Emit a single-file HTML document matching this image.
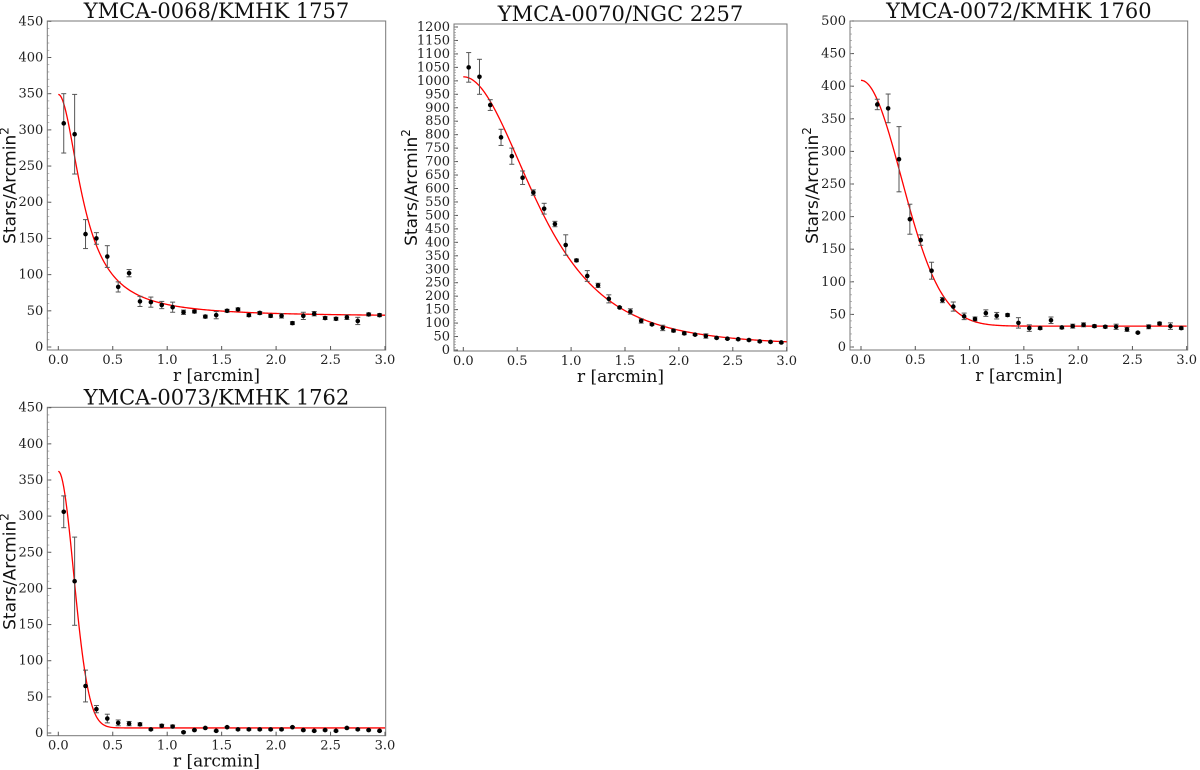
<!DOCTYPE html>
<html><head><meta charset="utf-8"><style>
html,body{margin:0;padding:0;background:#fff;}
svg{display:block;}
.tick{font-family:"DejaVu Serif","Liberation Serif",serif;font-size:13px;fill:#222;}
.title{font-family:"DejaVu Serif","Liberation Serif",serif;font-size:21px;fill:#111;}
.xl{font-family:"DejaVu Serif","Liberation Serif",serif;font-size:17px;fill:#111;}
.yl{font-family:"DejaVu Sans","Liberation Sans",sans-serif;font-size:17px;fill:#111;}
</style></head><body>
<svg id="fig" width="1200" height="770" viewBox="0 0 1200 770"></svg>
<script>
const rStart = 0.05;
const p1Values = [309,294,156,150,125,83,102,63,62,58,55,48,49,42,44,50,52,44,47,43,43,33,43,46,40,39,41,36,45,44];
const p1Errors = [41,55,20,8,15,7,5,7,7,5,7,3,2,2,5,2,2,2,2,2,3,2,5,3,2,2,3,5,2,2];
const p2Values = [1050,1015,910,790,720,640,585,525,468,390,333,275,240,190,158,143,108,95,82,72,62,57,52,45,42,40,37,32,30,28];
const p2Errors = [55,65,20,30,30,25,10,20,10,38,5,20,8,15,3,10,8,3,10,5,5,3,8,3,3,3,3,3,3,3];
const p3Values = [null,372,366,288,196,164,117,72,62,47,43,52,48,49,37,29,29,41,30,32,34,32,31,31,27,22,31,36,32,29];
const p3Errors = [0,8,22,50,23,8,13,4,7,5,3,5,5,2,8,5,2,5,2,3,3,2,2,4,3,1,3,2,5,2];
const p4Values = [306,210,65,33,20,14,13,12,5,10,9,1,4,7,3,8,5,5,5,5,5,8,4,3,4,3,7,5,4,3];
const p4Errors = [22,61,22,5,6,4,3,2,1,2,2,1,1,1,1,1,1,1,1,1,1,1,1,1,1,1,1,1,1,1];
const xTicks = [0,0.5,1.0,1.5,2.0,2.5,3.0];
const titles = ["YMCA-0068/KMHK 1757","YMCA-0070/NGC 2257","YMCA-0072/KMHK 1760","YMCA-0073/KMHK 1762"];
const fit1 = [42,307,0.24,"king"];
const fit2 = [15,1000,1.13,"eff2"];
const fit3 = [32,377,0.37,"gauss"];
const fit4 = [7,355,0.14,"gauss"];
const yMax = [450,1200,500,450];
const yStep = [50,50,50,50];

const panels = [
 {L:47.3,R:385.7,T:21,B:350,x0:58.3,x3:385,y0:347,yTop:21.3,vals:p1Values,errs:p1Errors,fit:fit1},
 {L:454,R:787,T:24,B:351,x0:463.3,x3:786.7,y0:350,yTop:27,vals:p2Values,errs:p2Errors,fit:fit2},
 {L:850,R:1187.7,T:21,B:350,x0:861,x3:1186.7,y0:347,yTop:21,vals:p3Values,errs:p3Errors,fit:fit3},
 {L:47.3,R:385.7,T:407.3,B:735.7,x0:58.3,x3:385,y0:733,yTop:407.7,vals:p4Values,errs:p4Errors,fit:fit4}
];
const NS="http://www.w3.org/2000/svg";
const svg=document.getElementById('fig');
function mk(t,a,p){const e=document.createElementNS(NS,t);for(const k in a)e.setAttribute(k,a[k]);(p||svg).appendChild(e);return e;}
function model(f,r){const [bg,f0,s,t]=f;
 if(t==="king")return bg+f0/(1+(r/s)**2);
 if(t==="eff2")return bg+f0*Math.pow(1+(r/s)**2,-2);
 return bg+f0*Math.exp(-r*r/(2*s*s));}
panels.forEach((p,i)=>{
 const g=mk('g',{});
 
 
 const X=v=>p.x0+(p.x3-p.x0)*v/3;
 const Y=v=>p.y0-(p.y0-p.yTop)*v/yMax[i];
 const t=mk('text',{x:(p.L+p.R)/2,y:p.T-3,'text-anchor':'middle',class:'title'},g);t.textContent=titles[i];
 
 mk('rect',{x:p.L,y:p.T,width:p.R-p.L,height:p.B-p.T,fill:'none',stroke:'#777','stroke-width':1},g);
 xTicks.forEach(v=>{const x=X(v);
  mk('line',{x1:x,x2:x,y1:p.B,y2:p.B-4,stroke:'#555'},g);
  const tt=mk('text',{x:x,y:p.B+14,'text-anchor':'middle',class:'tick'},g);tt.textContent=v.toFixed(1);
  });
 for(let v=0;v<=yMax[i];v+=yStep[i]){const y=Y(v);
  mk('line',{x1:p.L,x2:p.L+4,y1:y,y2:y,stroke:'#555'},g);
  const tt=mk('text',{x:p.L-4,y:y+4,'text-anchor':'end',class:'tick'},g);tt.textContent=v;
  }
 for(let v=0;v<=yMax[i];v+=yStep[i]/5){const y=Y(v);mk('line',{x1:p.L,x2:p.L+2,y1:y,y2:y,stroke:'#888','stroke-width':0.6},g);}
 const xl=mk('text',{x:(p.L+p.R)/2,y:p.B+31,'text-anchor':'middle',class:'xl'},g);xl.textContent='r [arcmin]';
 
 const cy=(p.T+p.B)/2, cx=p.L-(i===1?37:32);
 const yl=mk('text',{x:cx,y:cy,'text-anchor':'middle',class:'yl',transform:`rotate(-90 ${cx} ${cy})`},g);
 yl.innerHTML='Stars/Arcmin<tspan dy="-7" font-size="12">2</tspan>';
 
 let d='';for(let k=0;k<=300;k++){const r=3*k/300;d+=(k?'L':'M')+X(r).toFixed(2)+','+Y(model(p.fit,r)).toFixed(2);}
 const fl=mk('path',{d:d,fill:'none',stroke:'#f00','stroke-width':1.3},g);
 
 p.vals.forEach((v,k)=>{if(v==null)return;const r=rStart+0.1*k,x=X(r),e=p.errs[k];
  const y1=Y(v-e),y2=Y(v+e);
  mk('line',{x1:x,x2:x,y1:y1,y2:y2,stroke:'#555','stroke-width':1},g);
  mk('line',{x1:x-2.5,x2:x+2.5,y1:y1,y2:y1,stroke:'#555','stroke-width':1},g);
  mk('line',{x1:x-2.5,x2:x+2.5,y1:y2,y2:y2,stroke:'#555','stroke-width':1},g);
  const c=mk('circle',{cx:x,cy:Y(v),r:2.3,fill:'#000'},g);
  });
});
</script>
</body></html>
